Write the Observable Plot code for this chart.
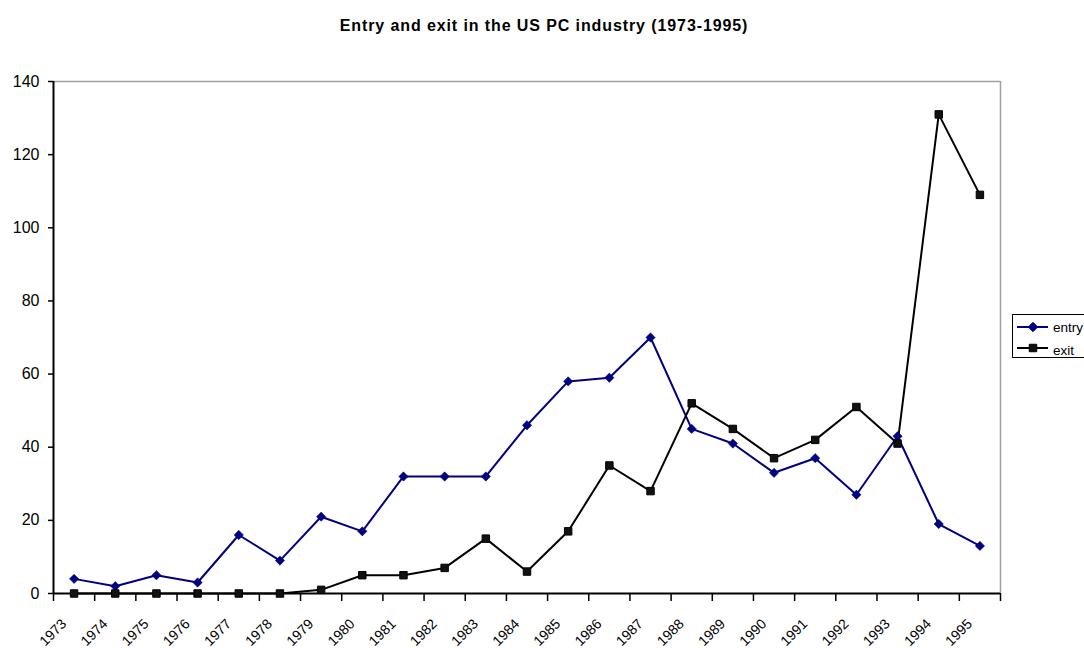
<!DOCTYPE html>
<html>
<head>
<meta charset="utf-8">
<script src="https://cdn.jsdelivr.net/npm/d3@7"></script>
<script src="https://cdn.jsdelivr.net/npm/@observablehq/plot@0.6"></script>
<style>
  html, body { margin: 0; padding: 0; background: #fff; }
  #wrap { position: relative; width: 1084px; height: 648px; overflow: hidden; font-family: "Liberation Sans", Arial, sans-serif; }
  #legend { position: absolute; left: 1012px; top: 314px; width: 90px; height: 44px; border: 1px solid #000; background: #fff; box-sizing: border-box; }
</style>
</head>
<body>
<div id="wrap"></div>
<script>
const title = "Entry and exit in the US PC industry (1973-1995)";
const years = [1973,1974,1975,1976,1977,1978,1979,1980,1981,1982,1983,1984,1985,1986,1987,1988,1989,1990,1991,1992,1993,1994,1995];
const entry = [4,2,5,3,16,9,21,17,32,32,32,46,58,59,70,45,41,33,37,27,43,19,13];
const exit  = [0,0,0,0,0,0,1,5,5,7,15,6,17,35,28,52,45,37,42,51,41,131,109];
const yTicks = [0,20,40,60,80,100,120,140];
const seriesNames = ["entry", "exit"];
const seriesColors = ["#000080", "#000000"];

const rows = [];
years.forEach((y, i) => {
  rows.push({year: y, value: entry[i], series: seriesNames[0]});
  rows.push({year: y, value: exit[i], series: seriesNames[1]});
});
const entryRows = rows.filter(d => d.series === "entry");
const exitRows = rows.filter(d => d.series === "exit");
const x0 = years[0] - 0.5, x1 = years[years.length - 1] + 0.5;
const boundaries = years.map(y => y - 0.5).concat([x1]);

const chart = Plot.plot({
  width: 1084,
  height: 648,
  marginTop: 81,
  marginBottom: 55,
  marginLeft: 53,
  marginRight: 84,
  style: {fontFamily: "'Liberation Sans', Arial, sans-serif", background: "#fff"},
  x: {type: "linear", domain: [x0, x1]},
  y: {domain: [0, 140]},
  marks: [
    Plot.ruleY([140], {stroke: "#a0a0a0", strokeWidth: 1.5}),
    Plot.ruleX([x1], {stroke: "#a0a0a0", strokeWidth: 1.5}),
    Plot.axisY(yTicks, {tickSize: 5, tickPadding: 9, fontSize: 16, label: null, stroke: "#000", strokeWidth: 1.5, fill: "#000"}),
    Plot.axisX(boundaries, {tickSize: 8, tickFormat: () => "", label: null, stroke: "#000", strokeWidth: 1.5}),
    Plot.axisX(years, {tickSize: 0, tickPadding: 28, tickRotate: -45, dx: -10, fontSize: 14, tickFormat: d => String(d), label: null, fill: "#000"}),
    Plot.ruleX([x0], {stroke: "#000", strokeWidth: 2}),
    Plot.ruleY([0], {stroke: "#000", strokeWidth: 2}),
    Plot.line(entryRows, {x: "year", y: "value", stroke: seriesColors[0], strokeWidth: 2}),
    Plot.line(exitRows, {x: "year", y: "value", stroke: seriesColors[1], strokeWidth: 2}),
    Plot.dot(entryRows, {x: "year", y: "value", symbol: "diamond2", r: 4.2, fill: seriesColors[0], stroke: seriesColors[0], strokeWidth: 0.5}),
    Plot.dot(exitRows, {x: "year", y: "value", symbol: "square", r: 4.2, fill: "#111", stroke: "#000", strokeWidth: 1}),
    Plot.text([title], {frameAnchor: "top", dy: -62, dx: 17, fontSize: 16, fontWeight: "bold", fill: "#000"})
  ]
});

const wrap = document.getElementById("wrap");
wrap.appendChild(chart);
d3.select(chart).selectAll("text").filter(function () { return this.textContent === title; })
  .attr("letter-spacing", "0.9px");

// Legend
const legend = d3.select(wrap).append("div").attr("id", "legend");
const lsvg = legend.append("svg").attr("width", 90).attr("height", 42).style("display", "block").style("overflow", "visible");
const symbols = [d3.symbolDiamond2, d3.symbolSquare];
seriesNames.forEach((name, i) => {
  const g = lsvg.append("g").attr("transform", `translate(0,${12 + i * 21})`);
  g.append("line").attr("x1", 4).attr("x2", 35).attr("y1", 0).attr("y2", 0)
    .attr("stroke", seriesColors[i]).attr("stroke-width", 2);
  g.append("path").attr("d", d3.symbol(symbols[i], 56)()).attr("transform", "translate(20,0)")
    .attr("fill", i === 0 ? seriesColors[0] : "#111").attr("stroke", seriesColors[i]);
  g.append("text").attr("x", 40).attr("y", i === 0 ? 5 : 7).attr("font-size", 13.5)
    .attr("font-family", "'Liberation Sans', Arial, sans-serif").text(name);
});
</script>
</body>
</html>
